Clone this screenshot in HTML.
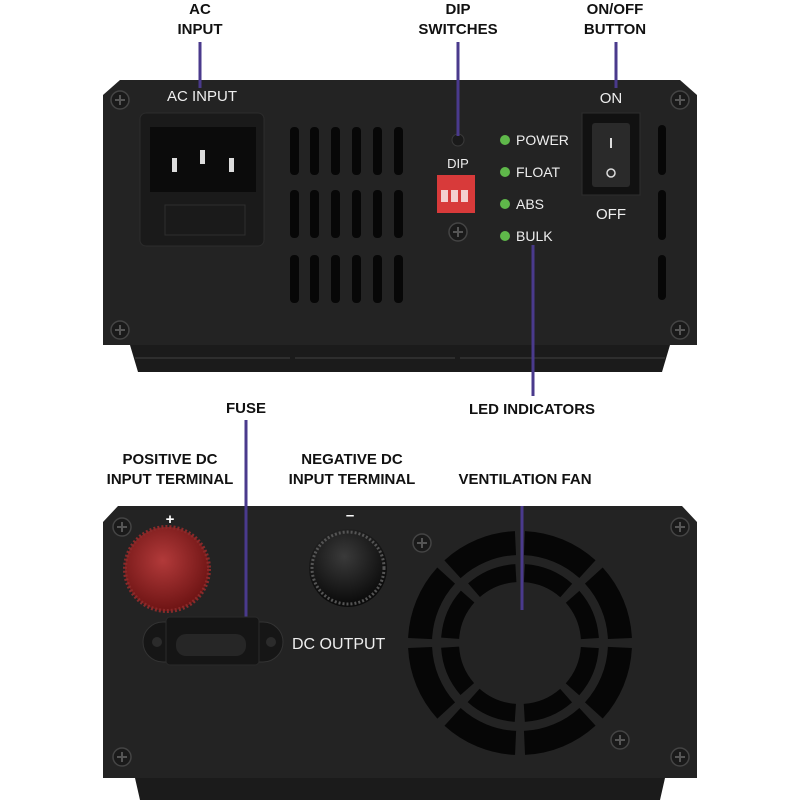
<!DOCTYPE html>
<html><head><style>
html,body{margin:0;padding:0;background:#fff;}
svg{display:block;}
.lb{font-family:"Liberation Sans",sans-serif;font-weight:bold;font-size:15px;fill:#111;text-anchor:middle;}
.wt{font-family:"Liberation Sans",sans-serif;fill:#eee;}
</style></head><body>
<svg width="800" height="800" viewBox="0 0 800 800" xmlns="http://www.w3.org/2000/svg">
<defs>
<g id="scr"><circle r="9" fill="#1a1a1a" stroke="#444" stroke-width="1.5"/><path d="M-5 0H5M0 -5V5" stroke="#555" stroke-width="2"/></g>
<radialGradient id="red" cx="45%" cy="40%" r="60%"><stop offset="0" stop-color="#b23a3a"/><stop offset="1" stop-color="#6e1414"/></radialGradient>
<radialGradient id="blk" cx="45%" cy="35%" r="60%"><stop offset="0" stop-color="#3a3a3a"/><stop offset="1" stop-color="#0c0c0c"/></radialGradient>
</defs>

<!-- Top labels -->
<text class="lb" x="200" y="14">AC</text><text class="lb" x="200" y="34">INPUT</text>
<text class="lb" x="458" y="14">DIP</text><text class="lb" x="458" y="34">SWITCHES</text>
<text class="lb" x="615" y="14">ON/OFF</text><text class="lb" x="615" y="34">BUTTON</text>

<!-- Top body -->
<path d="M103 95 L120 80 L680 80 L697 95 L697 345 L103 345 Z" fill="#232323"/>
<path d="M130 345 H670 L662 372 H138 Z" fill="#1b1b1b"/>
<path d="M135 358 H290 M295 358 H455 M460 358 H665" stroke="#2e2e2e" stroke-width="2"/>
<use href="#scr" x="120" y="100"/><use href="#scr" x="680" y="100"/>
<use href="#scr" x="120" y="330"/><use href="#scr" x="680" y="330"/>

<text class="wt" x="202" y="101" font-size="15" text-anchor="middle">AC INPUT</text>
<rect x="140" y="113" width="124" height="133" rx="6" fill="#1a1a1a" stroke="#2c2c2c"/>
<rect x="150" y="127" width="106" height="65" fill="#0b0b0b"/>
<rect x="172" y="158" width="5" height="14" fill="#ddd"/><rect x="200" y="150" width="5" height="14" fill="#ddd"/><rect x="229" y="158" width="5" height="14" fill="#ddd"/>
<rect x="165" y="205" width="80" height="30" fill="none" stroke="#2e2e2e"/>

<g fill="#070707">
<rect x="290" y="127" width="9" height="48" rx="4"/><rect x="310" y="127" width="9" height="48" rx="4"/><rect x="331" y="127" width="9" height="48" rx="4"/><rect x="352" y="127" width="9" height="48" rx="4"/><rect x="373" y="127" width="9" height="48" rx="4"/><rect x="394" y="127" width="9" height="48" rx="4"/>
<rect x="290" y="190" width="9" height="48" rx="4"/><rect x="310" y="190" width="9" height="48" rx="4"/><rect x="331" y="190" width="9" height="48" rx="4"/><rect x="352" y="190" width="9" height="48" rx="4"/><rect x="373" y="190" width="9" height="48" rx="4"/><rect x="394" y="190" width="9" height="48" rx="4"/>
<rect x="290" y="255" width="9" height="48" rx="4"/><rect x="310" y="255" width="9" height="48" rx="4"/><rect x="331" y="255" width="9" height="48" rx="4"/><rect x="352" y="255" width="9" height="48" rx="4"/><rect x="373" y="255" width="9" height="48" rx="4"/><rect x="394" y="255" width="9" height="48" rx="4"/>
<rect x="658" y="125" width="8" height="50" rx="4"/><rect x="658" y="190" width="8" height="50" rx="4"/><rect x="658" y="255" width="8" height="45" rx="4"/>
</g>

<circle cx="458" cy="140" r="6" fill="#1a1a1a" stroke="#3a3a3a"/>
<text class="wt" x="458" y="168" font-size="13" text-anchor="middle">DIP</text>
<rect x="437" y="175" width="38" height="38" fill="#d83a3a"/>
<rect x="441" y="190" width="7" height="12" fill="#f4d0d0"/><rect x="451" y="190" width="7" height="12" fill="#f4d0d0"/><rect x="461" y="190" width="7" height="12" fill="#f4d0d0"/>
<use href="#scr" x="458" y="232" transform="translate(0,0)"/>

<g fill="#5fb84a"><circle cx="505" cy="140" r="5"/><circle cx="505" cy="172" r="5"/><circle cx="505" cy="204" r="5"/><circle cx="505" cy="236" r="5"/></g>
<g class="wt" font-size="14"><text x="516" y="145">POWER</text><text x="516" y="177">FLOAT</text><text x="516" y="209">ABS</text><text x="516" y="241">BULK</text></g>

<text class="wt" x="611" y="103" font-size="15" text-anchor="middle">ON</text>
<rect x="582" y="113" width="58" height="82" fill="#111" stroke="#2e2e2e"/>
<rect x="592" y="123" width="38" height="64" rx="3" fill="#2a2a2a"/>
<rect x="610" y="138" width="2" height="10" fill="#ddd"/><circle cx="611" cy="173" r="4" fill="none" stroke="#ddd" stroke-width="1.5"/>
<text class="wt" x="611" y="219" font-size="15" text-anchor="middle">OFF</text>

<!-- connectors top -->
<g stroke="#4a3a8c" stroke-width="3">
<line x1="200" y1="42" x2="200" y2="88"/>
<line x1="458" y1="42" x2="458" y2="136"/>
<line x1="616" y1="42" x2="616" y2="88"/>
<line x1="533" y1="245" x2="533" y2="396"/>
<line x1="246" y1="420" x2="246" y2="628"/>
<line x1="171" y1="510" x2="171" y2="520"/>
<line x1="350" y1="510" x2="350" y2="520"/>
<line x1="522" y1="510" x2="522" y2="610"/>
</g>
<text class="lb" x="532" y="414">LED INDICATORS</text>
<text class="lb" x="246" y="413">FUSE</text>
<text class="lb" x="170" y="464">POSITIVE DC</text><text class="lb" x="170" y="484">INPUT TERMINAL</text>
<text class="lb" x="352" y="464">NEGATIVE DC</text><text class="lb" x="352" y="484">INPUT TERMINAL</text>
<text class="lb" x="525" y="484">VENTILATION FAN</text>

<!-- Bottom body -->
<path d="M103 522 L118 506 L682 506 L697 522 L697 778 L103 778 Z" fill="#232323"/>
<path d="M135 778 H665 L660 800 H140 Z" fill="#1b1b1b"/>
<g stroke="#4a3a8c" stroke-width="3"><line x1="246" y1="506" x2="246" y2="628"/><line x1="522" y1="506" x2="522" y2="610"/></g>
<use href="#scr" x="122" y="527"/><use href="#scr" x="680" y="527"/>
<use href="#scr" x="122" y="757"/><use href="#scr" x="680" y="757"/>
<use href="#scr" x="422" y="543" transform="scale(1)"/><use href="#scr" x="620" y="740"/>
<text x="170" y="524" font-family="Liberation Sans" font-weight="bold" font-size="15" fill="#fff" text-anchor="middle">+</text>
<text x="350" y="520" font-family="Liberation Sans" font-weight="bold" font-size="15" fill="#fff" text-anchor="middle">–</text>

<circle cx="167" cy="569" r="42" fill="url(#red)"/>
<circle cx="167" cy="569" r="42" fill="none" stroke="#8a2a2a" stroke-width="4" stroke-dasharray="2 2"/>
<circle cx="348" cy="568" r="39" fill="url(#blk)"/>
<circle cx="348" cy="568" r="36" fill="none" stroke="#555" stroke-width="3" stroke-dasharray="2 2"/>

<rect x="143" y="622" width="140" height="40" rx="20" fill="#161616" stroke="#333"/>
<rect x="166" y="617" width="93" height="48" rx="4" fill="#151515" stroke="#2a2a2a"/>
<rect x="176" y="634" width="70" height="22" rx="10" fill="#262626"/>
<circle cx="157" cy="642" r="5" fill="#2b2b2b"/><circle cx="271" cy="642" r="5" fill="#2b2b2b"/>
<text class="wt" x="292" y="649" font-size="16">DC OUTPUT</text>

<!-- fan -->
<g fill="none" stroke="#060606">
<circle cx="520" cy="643" r="100" stroke-width="24" stroke-dasharray="69.5 9" stroke-dashoffset="-4.5" transform="rotate(-90 520 643)"/>
<circle cx="520" cy="643" r="70" stroke-width="18" stroke-dasharray="46 9" stroke-dashoffset="-4.5" transform="rotate(-90 520 643)"/>
</g>
<g stroke="#4a3a8c" stroke-width="3"><line x1="522" y1="506" x2="522" y2="610"/></g>
</svg>
</body></html>
